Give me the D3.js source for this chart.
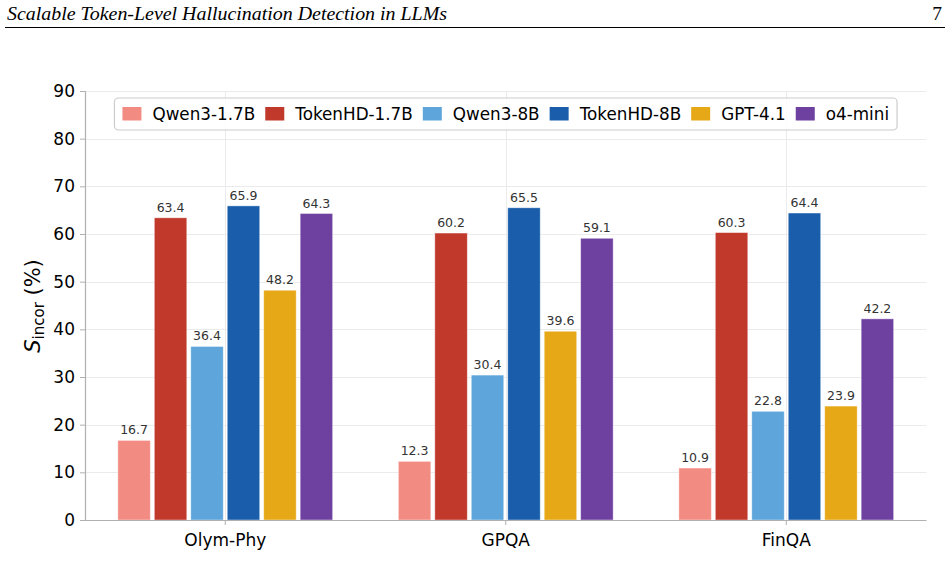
<!DOCTYPE html>
<html><head><meta charset="utf-8">
<script src="https://cdn.jsdelivr.net/npm/d3@7"></script>
<style>body{margin:0;background:#fff}svg{display:block}</style>
</head><body>
<script>
const categories = ["Olym-Phy", "GPQA", "FinQA"];
const seriesNames = ["Qwen3-1.7B", "TokenHD-1.7B", "Qwen3-8B", "TokenHD-8B", "GPT-4.1", "o4-mini"];
const seriesColors = ["#F28B82", "#C0392B", "#5DA5DA", "#1A5EAB", "#E6A817", "#6E40A0"];
const qwen17 = [16.7, 12.3, 10.9];
const tokenhd17 = [63.4, 60.2, 60.3];
const qwen8 = [36.4, 30.4, 22.8];
const tokenhd8 = [65.9, 65.5, 64.4];
const gpt41 = [48.2, 39.6, 23.9];
const o4mini = [64.3, 59.1, 42.2];
const yTicks = [0, 10, 20, 30, 40, 50, 60, 70, 80, 90];
const seriesValues = [qwen17, tokenhd17, qwen8, tokenhd8, gpt41, o4mini];

const W = 949, H = 581;
const svg = d3.select("body").append("svg").attr("width", W).attr("height", H);
const m = {left: 85, right: 926.5, top: 91, bottom: 520};

// header
svg.append("text").attr("x", 7).attr("y", 20)
  .attr("font-family", "Liberation Serif, Times New Roman, serif").attr("font-style", "italic")
  .attr("font-size", 19.5).attr("fill", "#000")
  .attr("textLength", 440).attr("lengthAdjust", "spacingAndGlyphs")
  .text("Scalable Token-Level Hallucination Detection in LLMs");
svg.append("text").attr("x", 942).attr("y", 20).attr("text-anchor", "end")
  .attr("font-family", "Liberation Serif, Times New Roman, serif")
  .attr("font-size", 19.5).attr("fill", "#000").text("7");
svg.append("line").attr("x1", 5).attr("x2", 945).attr("y1", 27.5).attr("y2", 27.5)
  .attr("stroke", "#000").attr("stroke-width", 1);

const x = d3.scaleBand().domain(categories).range([m.left, m.right]).padding(0);
const y = d3.scaleLinear().domain([0, 90]).range([m.bottom, m.top]);
const step = x.bandwidth() * 0.13;
const barW = step - 4;

const g = svg.append("g");
// grid
g.selectAll(".hg").data(yTicks.slice(1)).join("line")
  .attr("x1", m.left).attr("x2", m.right)
  .attr("y1", d => Math.round(y(d)) + 0.5).attr("y2", d => Math.round(y(d)) + 0.5)
  .attr("stroke", "#ebebeb").attr("stroke-width", 1);
g.selectAll(".vg").data(categories).join("line")
  .attr("x1", d => Math.round(x(d) + x.bandwidth() / 2) + 0.5)
  .attr("x2", d => Math.round(x(d) + x.bandwidth() / 2) + 0.5)
  .attr("y1", m.top).attr("y2", m.bottom)
  .attr("stroke", "#ebebeb").attr("stroke-width", 1);

// bars
seriesValues.forEach((vals, si) => {
  const off = (si - 2.5) * step;
  g.selectAll(".b" + si).data(vals).join("rect")
    .attr("x", (d, i) => x(categories[i]) + x.bandwidth() / 2 + off - barW / 2)
    .attr("width", barW)
    .attr("y", d => y(d)).attr("height", d => y(0) - y(d))
    .attr("fill", seriesColors[si]).attr("stroke", "#fff").attr("stroke-opacity", 0.5).attr("stroke-width", 0.8);
  g.selectAll(".l" + si).data(vals).join("text")
    .attr("x", (d, i) => x(categories[i]) + x.bandwidth() / 2 + off)
    .attr("y", d => y(d) - 6)
    .attr("text-anchor", "middle")
    .attr("font-family", "DejaVu Sans, sans-serif").attr("font-size", 12.5).attr("fill", "#333")
    .text(d => d.toFixed(1));
});

// axes
const yAxis = d3.axisLeft(y).tickValues(yTicks).tickSize(5).tickPadding(5);
const ya = svg.append("g").attr("transform", `translate(${m.left},0)`).call(yAxis);
const xAxis = d3.axisBottom(x).tickSize(5).tickPadding(9);
const xa = svg.append("g").attr("transform", `translate(0,${m.bottom})`).call(xAxis);
[ya, xa].forEach(a => {
  a.select(".domain").attr("stroke", "#b0b0b0").attr("stroke-width", 1.2);
  a.selectAll(".tick line").attr("stroke", "#b0b0b0");
  a.selectAll(".tick text").attr("font-family", "DejaVu Sans, sans-serif").attr("font-size", 17).attr("fill", "#000");
});
ya.select(".domain").attr("d", `M0.5,${m.top}V${m.bottom}`);
xa.select(".domain").attr("d", `M${m.left},0.5H${m.right}`);

// y label
const yl = svg.append("text").attr("transform", "translate(40,306) rotate(-90)")
  .attr("text-anchor", "middle").attr("font-family", "DejaVu Sans, sans-serif")
  .attr("font-size", 21).attr("fill", "#000");
yl.append("tspan").attr("font-style", "italic").text("S");
yl.append("tspan").attr("font-size", 15).attr("dy", 4).text("incor");
yl.append("tspan").attr("dy", -4).text(" (%)");

// legend
const lg = svg.append("g");
const box = lg.append("rect").attr("rx", 4).attr("ry", 4)
  .attr("fill", "#fff").attr("fill-opacity", 0.85).attr("stroke", "#cccccc").attr("stroke-width", 1.2);
let cx = 0;
seriesNames.forEach((n, i) => {
  const it = lg.append("g");
  it.append("rect").attr("x", cx).attr("y", -7).attr("width", 19).attr("height", 13.5).attr("fill", seriesColors[i]);
  const t = it.append("text").attr("x", cx + 30).attr("y", 6)
    .attr("font-family", "DejaVu Sans, sans-serif").attr("font-size", 16.8).attr("fill", "#000").text(n);
  const tw = t.node().getComputedTextLength();
  cx += 30 + tw + 10;
});
const totalW = cx - 10;
const lx = (m.left + m.right) / 2 - totalW / 2;
const ly = 114;
lg.selectAll("g").attr("transform", `translate(${lx},${ly})`);
box.attr("x", lx - 8).attr("y", ly - 16).attr("width", totalW + 16).attr("height", 32);
</script>
</body></html>
